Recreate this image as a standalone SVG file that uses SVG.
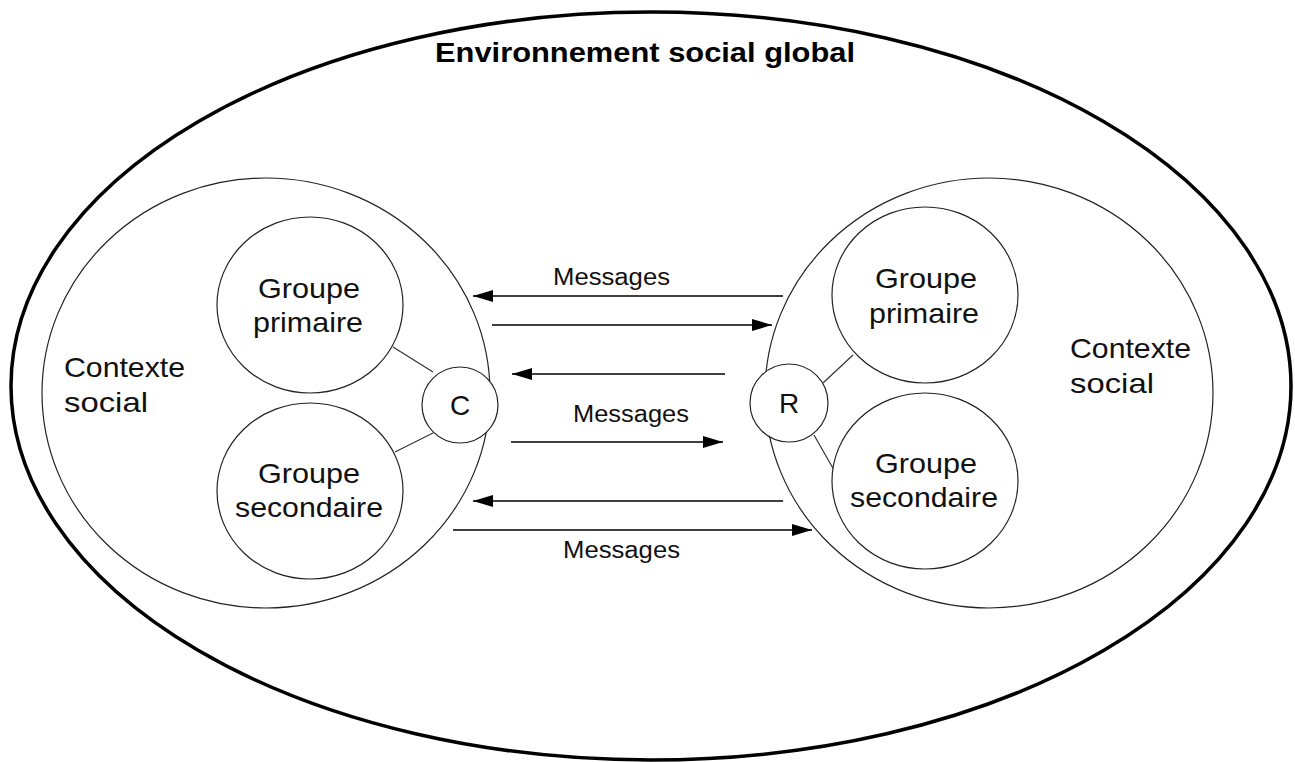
<svg xmlns="http://www.w3.org/2000/svg" width="1295" height="762" viewBox="0 0 1295 762">
<defs>
<style>
.outer{fill:none;stroke:#000;stroke-width:3.5}
.ctx{fill:none;stroke:#222;stroke-width:1.2}
.grp{fill:#fff;stroke:#222;stroke-width:1.2}
.link{stroke:#333;stroke-width:1.2}
.t{font-family:"Liberation Sans",Arial,sans-serif;font-size:28px;fill:#111}
.tc{font-family:"Liberation Sans",Arial,sans-serif;font-size:28px;fill:#111;text-anchor:middle}
.tg{font-family:"Liberation Sans",Arial,sans-serif;font-size:28.5px;fill:#111}
.title{font-family:"Liberation Sans",Arial,sans-serif;font-size:28px;font-weight:bold;fill:#000}
.msg{font-family:"Liberation Sans",Arial,sans-serif;font-size:23px;fill:#111}
.arr{stroke:#000;stroke-width:1.5;fill:none;marker-end:url(#ah)}
</style>
<marker id="ah" markerUnits="userSpaceOnUse" markerWidth="20" markerHeight="12" refX="20" refY="6" orient="auto">
<path d="M0,0 L20,6 L0,12 z" fill="#000"/>
</marker>
</defs>
<rect width="1295" height="762" fill="#fff"/>

<g id="environment">
<ellipse class="outer" cx="651" cy="386" rx="640" ry="374"/>
<text class="title" x="435" y="62" textLength="420" lengthAdjust="spacingAndGlyphs">Environnement social global</text>
</g>

<g id="context-left">
<ellipse class="ctx" cx="266" cy="393" rx="224" ry="215"/>
<text class="t" x="64" y="377" textLength="121" lengthAdjust="spacingAndGlyphs">Contexte</text>
<text class="t" x="64" y="412" textLength="84" lengthAdjust="spacingAndGlyphs">social</text>
</g>

<g id="context-right">
<ellipse class="ctx" cx="989" cy="393" rx="224" ry="215"/>
<text class="t" x="1070" y="358" textLength="121" lengthAdjust="spacingAndGlyphs">Contexte</text>
<text class="t" x="1070" y="393" textLength="84" lengthAdjust="spacingAndGlyphs">social</text>
</g>

<g id="links">
<line class="link" x1="393" y1="347" x2="433" y2="372"/>
<line class="link" x1="395" y1="452" x2="433" y2="433"/>
<line class="link" x1="823" y1="383" x2="853" y2="355"/>
<line class="link" x1="814" y1="435" x2="834" y2="470"/>
</g>

<g id="groupe-primaire-left">
<ellipse class="grp" cx="310" cy="305" rx="93" ry="88"/>
<text class="tg" x="258" y="298" textLength="102" lengthAdjust="spacingAndGlyphs">Groupe</text>
<text class="tg" x="253" y="332" textLength="110" lengthAdjust="spacingAndGlyphs">primaire</text>
</g>

<g id="groupe-secondaire-left">
<ellipse class="grp" cx="310" cy="491" rx="93" ry="88"/>
<text class="tg" x="258" y="483" textLength="102" lengthAdjust="spacingAndGlyphs">Groupe</text>
<text class="tg" x="235" y="517" textLength="148" lengthAdjust="spacingAndGlyphs">secondaire</text>
</g>

<g id="groupe-primaire-right">
<ellipse class="grp" cx="925" cy="295" rx="93" ry="88"/>
<text class="tg" x="875" y="288" textLength="102" lengthAdjust="spacingAndGlyphs">Groupe</text>
<text class="tg" x="869" y="323" textLength="110" lengthAdjust="spacingAndGlyphs">primaire</text>
</g>

<g id="groupe-secondaire-right">
<ellipse class="grp" cx="925" cy="481" rx="93" ry="88"/>
<text class="tg" x="875" y="473" textLength="102" lengthAdjust="spacingAndGlyphs">Groupe</text>
<text class="tg" x="850" y="507" textLength="148" lengthAdjust="spacingAndGlyphs">secondaire</text>
</g>

<g id="node-C">
<circle class="grp" cx="460" cy="405" r="38"/>
<text class="tc" x="460" y="415">C</text>
</g>

<g id="node-R">
<circle class="grp" cx="789" cy="403" r="39"/>
<text class="tc" x="789" y="413">R</text>
</g>

<g id="connectors">
<line class="arr" x1="783" y1="296" x2="473" y2="296"/>
<line class="arr" x1="492" y1="325" x2="772" y2="325"/>
<line class="arr" x1="725" y1="374" x2="512" y2="374"/>
<line class="arr" x1="511" y1="442" x2="723" y2="442"/>
<line class="arr" x1="783" y1="501" x2="473" y2="501"/>
<line class="arr" x1="453" y1="530" x2="812" y2="530"/>
<text class="msg" x="553" y="285" textLength="117" lengthAdjust="spacingAndGlyphs">Messages</text>
<text class="msg" x="573" y="422" textLength="116" lengthAdjust="spacingAndGlyphs">Messages</text>
<text class="msg" x="563" y="558" textLength="117" lengthAdjust="spacingAndGlyphs">Messages</text>
</g>
</svg>
